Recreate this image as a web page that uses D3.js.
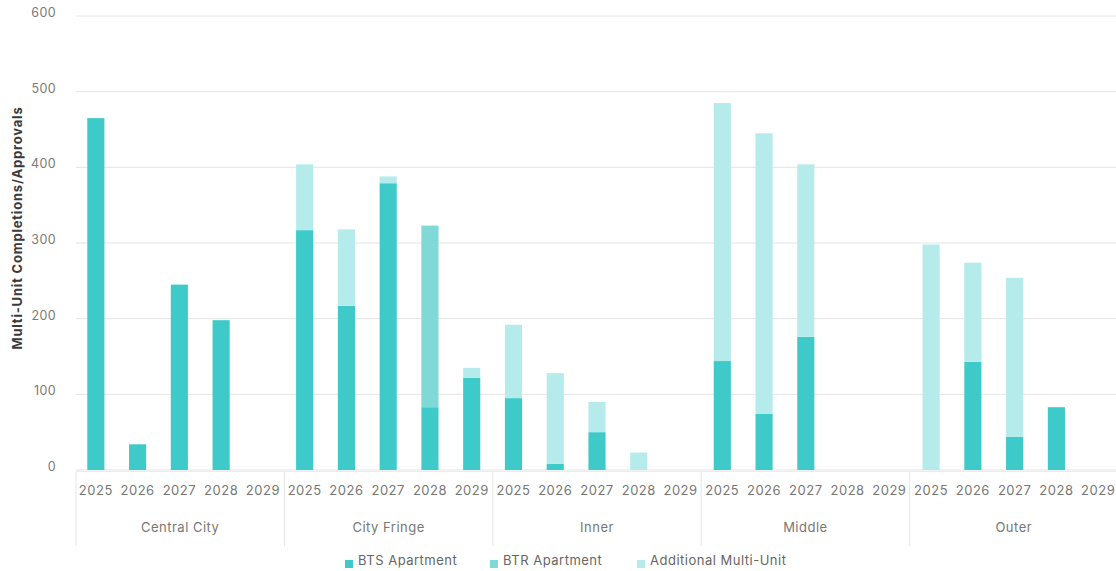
<!DOCTYPE html>
<html>
<head>
<meta charset="utf-8">
<script src="https://cdn.jsdelivr.net/npm/d3@7"></script>
<style>
  html, body { margin: 0; padding: 0; background: #ffffff; }
  svg { display: block; font-family: Inter, "Open Sans", sans-serif; }
</style>
</head>
<body>
<svg id="chart" width="1116" height="571"></svg>
<script>
// Regions and years (two-level category axis)
const regions = ["Central City", "City Fringe", "Inner", "Middle", "Outer"];
const years = ["2025", "2026", "2027", "2028", "2029"];

// Series values, one entry per region/year in order
const btsApartment = [465, 34, 245, 198, 0,  317, 217, 379, 83, 122,  95, 8, 50, 0, 0,  144, 74, 176, 0, 0,  0, 143, 44, 83, 0];
const btrApartment = [0, 0, 0, 0, 0,  0, 0, 0, 240, 0,  0, 0, 0, 0, 0,  0, 0, 0, 0, 0,  0, 0, 0, 0, 0];
const additionalMultiUnit = [0, 0, 0, 0, 0,  87, 101, 9, 0, 13,  97, 120, 40, 23, 0,  341, 371, 228, 0, 0,  298, 131, 210, 0, 0];

const seriesNames = ["BTS Apartment", "BTR Apartment", "Additional Multi-Unit"];
const seriesColors = ["#3fcaca", "#7fd9d6", "#b6ebeb"];
const yTicks = [0, 100, 200, 300, 400, 500, 600];

// Build rows for the stack
const rows = [];
regions.forEach((r, ri) => {
  years.forEach((yr, yi) => {
    const i = ri * years.length + yi;
    rows.push({
      key: r + "|" + yr, region: r, year: yr,
      "BTS Apartment": btsApartment[i],
      "BTR Apartment": btrApartment[i],
      "Additional Multi-Unit": additionalMultiUnit[i]
    });
  });
});

const svg = d3.select("#chart");
const plotLeft = 76, plotRight = 1118, plotTop = 16, plotBottom = 470;
const labelFont = "Inter, 'Open Sans', sans-serif";

const x = d3.scaleBand().domain(rows.map(d => d.key)).range([plotLeft, plotRight]).paddingInner(0.59).paddingOuter(0.27);
const xGroup = d3.scaleBand().domain(regions).range([plotLeft, plotRight]);
const y = d3.scaleLinear().domain([0, 600]).range([plotBottom, plotTop]);
const color = d3.scaleOrdinal().domain(seriesNames).range(seriesColors);

// Grid lines
svg.append("g")
  .selectAll("line")
  .data(yTicks)
  .join("line")
  .attr("x1", plotLeft).attr("x2", 1116)
  .attr("y1", d => y(d)).attr("y2", d => y(d))
  .attr("stroke", "#e4e4e4").attr("stroke-width", 1);

// Y axis labels
const yAxis = d3.axisLeft(y).tickValues(yTicks).tickSize(0).tickPadding(0);
svg.append("g")
  .attr("transform", "translate(56,0)")
  .call(yAxis)
  .call(g => g.select(".domain").remove())
  .call(g => g.selectAll("text")
    .attr("fill", "#7a7a7a").attr("font-size", 12.5).attr("dy", "0.05em")
    .attr("letter-spacing", 0.4)
    .style("font-family", labelFont));

// Y axis title
svg.append("text")
  .attr("transform", "translate(22,228) rotate(-90)")
  .attr("text-anchor", "middle")
  .attr("font-size", 13).attr("font-weight", 700).attr("fill", "#3a3a3a")
  .attr("letter-spacing", 0.8)
  .text("Multi-Unit Completions/Approvals");

// Stacked bars
const stacked = d3.stack().keys(seriesNames)(rows);
svg.append("g")
  .selectAll("g")
  .data(stacked)
  .join("g")
  .attr("fill", d => color(d.key))
  .selectAll("rect")
  .data(d => d)
  .join("rect")
  .attr("x", d => x(d.data.key))
  .attr("width", x.bandwidth())
  .attr("y", d => y(d[1]))
  .attr("height", d => y(d[0]) - y(d[1]));

// Year labels (inner category level)
const xAxis = d3.axisBottom(x).tickSize(0).tickPadding(0).tickFormat(k => k.split("|")[1]);
svg.append("g")
  .attr("transform", "translate(0," + (plotBottom + 16) + ")")
  .call(xAxis)
  .call(g => g.select(".domain").remove())
  .call(g => g.selectAll("text")
    .attr("fill", "#777").attr("font-size", 13).attr("letter-spacing", 0.5)
    .style("font-family", labelFont));

// Baseline and group separators
svg.append("line")
  .attr("x1", plotLeft).attr("x2", 1116)
  .attr("y1", plotBottom + 1.5).attr("y2", plotBottom + 1.5)
  .attr("stroke", "#ececec");
svg.append("g")
  .selectAll("line")
  .data(regions)
  .join("line")
  .attr("x1", d => xGroup(d)).attr("x2", d => xGroup(d))
  .attr("y1", plotBottom + 2).attr("y2", plotBottom + 76)
  .attr("stroke", "#e6e6e6");

// Region labels (outer category level)
svg.append("g")
  .selectAll("text")
  .data(regions)
  .join("text")
  .attr("x", d => xGroup(d) + xGroup.bandwidth() / 2)
  .attr("y", plotBottom + 62)
  .attr("text-anchor", "middle")
  .attr("fill", "#777").attr("font-size", 13).attr("letter-spacing", 0.5)
  .text(d => d);

// Legend
const legendX = [345, 490, 637];
const legend = svg.append("g")
  .selectAll("g")
  .data(seriesNames)
  .join("g")
  .attr("transform", (d, i) => "translate(" + legendX[i] + ",555)");
legend.append("rect")
  .attr("x", 0).attr("y", 5).attr("width", 8).attr("height", 8)
  .attr("fill", d => color(d));
legend.append("text")
  .attr("x", 13).attr("y", 10)
  .attr("fill", "#666").attr("font-size", 13).attr("letter-spacing", 0.5)
  .text(d => d);
</script>
</body>
</html>
